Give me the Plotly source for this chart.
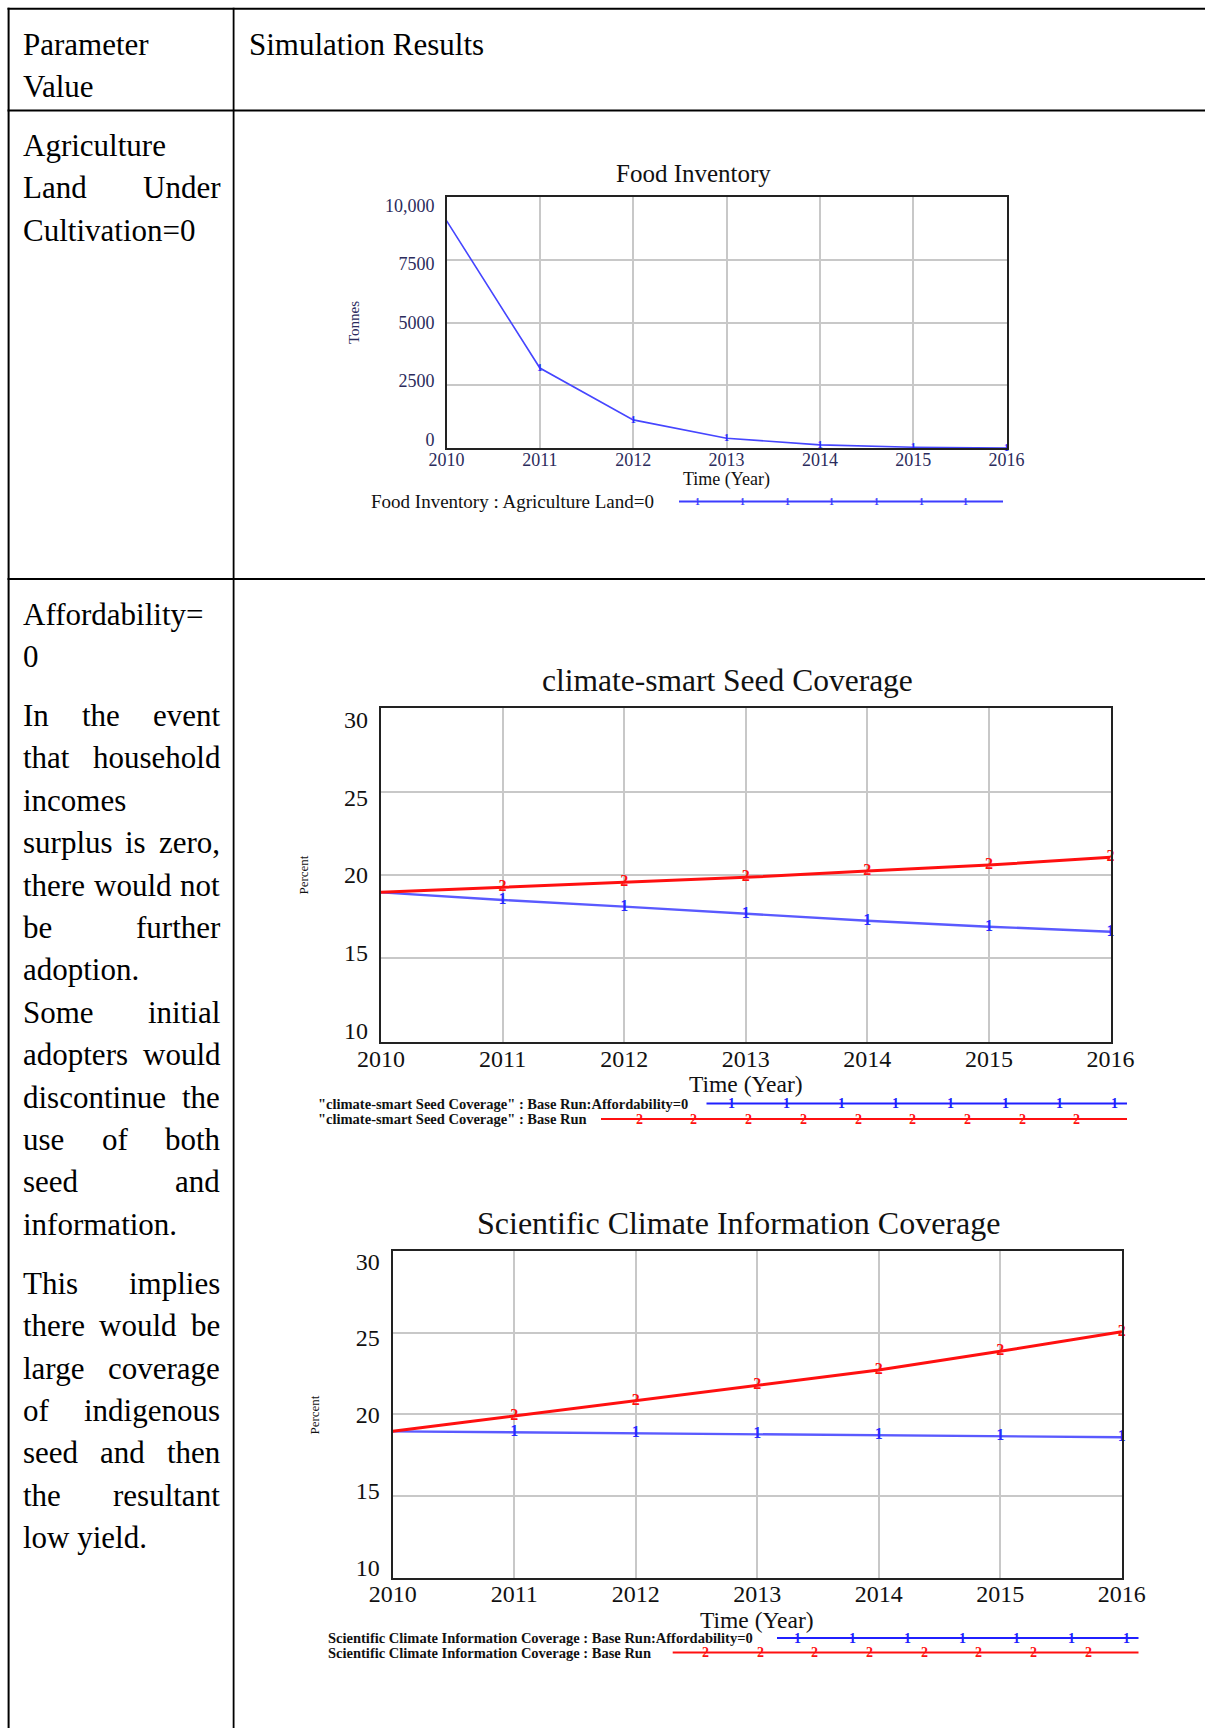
import plotly.graph_objects as go

# ---------------- data ----------------
years = [2010, 2011, 2012, 2013, 2014, 2015, 2016]
food_inventory = [9050, 3190, 1130, 400, 135, 40, 10]
seed_affordability0 = [18.96, 18.5, 18.1, 17.66, 17.26, 16.9, 16.6]
seed_base = [18.96, 19.26, 19.56, 19.86, 20.24, 20.6, 21.06]
info_affordability0 = [18.96, 18.9, 18.84, 18.78, 18.72, 18.66, 18.6]
info_base = [18.96, 19.9, 20.83, 21.77, 22.72, 23.86, 25.06]

food_ticks = [0, 2500, 5000, 7500, 10000]
food_ticktext = ["0", "2500", "5000", "7500", "10,000"]
pct_ticks = [10, 15, 20, 25, 30]
pct_ticktext = ["10", "15", "20", "25", "30"]

header_left = ["Parameter", "Value"]
header_right = "Simulation Results"
param_agri = ["Agriculture", "Land Under", "Cultivation=0"]
param_afford = ["Affordability=", "0"]
para_1 = ["In the event", "that household", "incomes", "surplus is zero,",
          "there would not", "be further", "adoption.", "Some initial",
          "adopters would", "discontinue the", "use of both", "seed and",
          "information."]
para_2 = ["This implies", "there would be", "large coverage", "of indigenous",
          "seed and then", "the resultant", "low yield."]

titles = ["Food Inventory", "climate-smart Seed Coverage",
          "Scientific Climate Information Coverage"]
legend_food = "Food Inventory : Agriculture Land=0"
legend_seed = ['"climate-smart Seed Coverage" : Base Run:Affordability=0',
               '"climate-smart Seed Coverage" : Base Run']
legend_info = ["Scientific Climate Information Coverage : Base Run:Affordability=0",
               "Scientific Climate Information Coverage : Base Run"]

# ---------------- helpers ----------------
W, H = 1205, 1728
FONT = "Liberation Serif"
BLUE = "#4646ff"
RED = "#ff1010"
NAVY = "#2b2b5c"
INK = "#111111"


def px(x):
    return x / W


def py(y):
    return 1 - y / H


TIMES = dict(zip("ABCDEFGHIJKLMNOPQRSTUVWXYZ",
                 [722, 667, 667, 722, 611, 556, 722, 722, 333, 389, 722, 611, 889,
                  722, 722, 556, 722, 667, 556, 611, 722, 722, 944, 722, 722, 611]))
TIMES.update(zip("abcdefghijklmnopqrstuvwxyz",
                 [444, 500, 444, 500, 444, 333, 500, 500, 278, 278, 500, 278, 778,
                  500, 500, 500, 500, 333, 389, 278, 500, 500, 722, 500, 500, 444]))
TIMES.update({" ": 250, ",": 250, ".": 250, "=": 564, "-": 333, ":": 278})


def tw(s, size):
    return sum(TIMES.get(c, 500) for c in s) / 1000 * size


annotations = []
shapes = []


def text(x, y, s, size, color="#000", anchor="left", angle=0, bold=False):
    annotations.append(dict(
        x=px(x), y=py(y), xref="paper", yref="paper", text=("<b>%s</b>" % s if bold else s),
        showarrow=False, xanchor=anchor, yanchor="middle", textangle=angle,
        font=dict(family=FONT, size=size, color=color), borderpad=0))


def paragraph(lines, y0, x0=22, x1=219, size=31, step=42.4):
    for i, line in enumerate(lines):
        y = y0 + i * step
        words = line.split()
        last = i == len(lines) - 1
        if last or len(words) == 1:
            text(x0, y, line, size)
            continue
        widths = [tw(w, size) for w in words]
        gap = (x1 - x0 - sum(widths)) / (len(words) - 1)
        x = x0
        for w, wd in zip(words, widths):
            text(x, y, w, size)
            x += wd + gap


def hline(x0, x1, y, color="#000", width=2):
    shapes.append(dict(type="line", xref="paper", yref="paper", x0=px(x0), x1=px(x1),
                       y0=py(y), y1=py(y), line=dict(color=color, width=width)))


def vline(x, y0, y1, color="#000", width=2):
    shapes.append(dict(type="line", xref="paper", yref="paper", x0=px(x), x1=px(x),
                       y0=py(y0), y1=py(y1), line=dict(color=color, width=width)))


def legend_row(label, lx, y, line_x0, line_x1, color, mark, m0, mstep, mcount, size, msize, bold):
    text(lx, y, label, size, INK, bold=bold)
    hline(line_x0, line_x1, y, color=color, width=2)
    for k in range(mcount):
        text(m0 + k * mstep, y, "<b>%s</b>" % mark, msize, color, anchor="center")


# ---------------- table ----------------
hline(7.5, W, 8.8)
hline(7.5, W, 110.5)
hline(7.5, W, 579)
vline(8.6, 7.8, H)
vline(233.6, 7.8, H, width=1.8)

paragraph(header_left, 44.1)
text(248, 44.1, header_right, 31)
paragraph(param_agri, 145.5)
paragraph(param_afford, 614.1)
paragraph(para_1, 715.5)
paragraph(para_2, 1283.3)

# ---------------- charts ----------------
fig = go.Figure()
hover = dict(hoverinfo="skip", showlegend=False)


def marks(xs, ys, glyph, size, color, xa, ya):
    fig.add_trace(go.Scatter(x=xs, y=ys, mode="text", text=["<b>%s</b>" % glyph] * len(xs),
                             textfont=dict(family=FONT, size=size, color=color),
                             cliponaxis=False, xaxis=xa, yaxis=ya, **hover))


# chart 1
fig.add_trace(go.Scatter(x=years, y=food_inventory, mode="lines",
                         line=dict(color=BLUE, width=1.6), xaxis="x", yaxis="y", **hover))
marks(years[1:], food_inventory[1:], "1", 11, "#2a2aff", "x", "y")
# chart 2
fig.add_trace(go.Scatter(x=years, y=seed_affordability0, mode="lines",
                         line=dict(color="#5a5aff", width=2.4), xaxis="x2", yaxis="y2", **hover))
fig.add_trace(go.Scatter(x=years, y=seed_base, mode="lines",
                         line=dict(color=RED, width=3), xaxis="x2", yaxis="y2", **hover))
marks(years[1:], seed_affordability0[1:], "1", 16, "#2a2aff", "x2", "y2")
marks(years[1:], seed_base[1:], "2", 16, RED, "x2", "y2")
# chart 3
fig.add_trace(go.Scatter(x=years, y=info_affordability0, mode="lines",
                         line=dict(color="#5a5aff", width=2.4), xaxis="x3", yaxis="y3", **hover))
fig.add_trace(go.Scatter(x=years, y=info_base, mode="lines",
                         line=dict(color=RED, width=3), xaxis="x3", yaxis="y3", **hover))
marks(years[1:], info_affordability0[1:], "1", 16, "#2a2aff", "x3", "y3")
marks(years[1:], info_base[1:], "2", 16, RED, "x3", "y3")

# invisible anchors so the label-only overlay axes are always drawn
for xa, ya, yv in (("x", "y4", food_ticks), ("x2", "y5", pct_ticks), ("x3", "y6", pct_ticks)):
    fig.add_trace(go.Scatter(x=years[:1], y=yv[:1], mode="markers", marker=dict(opacity=0),
                             xaxis=xa, yaxis=ya, **hover))


def xax(x0, x1, anchor, size, color, standoff):
    return dict(domain=[px(x0), px(x1)], anchor=anchor, range=[2010, 2016],
                tickvals=years, ticktext=[str(y) for y in years],
                tickfont=dict(family=FONT, size=size, color=color),
                showgrid=True, gridcolor="#c8c8c8", gridwidth=1.5,
                showline=True, mirror=True, linecolor="#222", linewidth=2,
                zeroline=False, ticks="", ticklabelstandoff=standoff,
                automargin=False, fixedrange=True)


def yax(y0, y1, anchor, rng, vals):
    # grid + frame axis (labels drawn by the overlay axis below)
    return dict(domain=[py(y1), py(y0)], anchor=anchor, range=rng, tickvals=vals,
                showticklabels=False,
                showgrid=True, gridcolor="#c8c8c8", gridwidth=1.5,
                showline=True, mirror=True, linecolor="#222", linewidth=2,
                zeroline=False, ticks="", automargin=False, fixedrange=True)


def ylab(y0, y1, anchor, over, rng, vals, labels, size, color, standoff, inset):
    # Vensim-style labels: evenly spread, pulled slightly inside the frame
    lo, hi = rng
    h = y1 - y0
    pad = (hi - lo) * inset / (h - 2 * inset)
    return dict(domain=[py(y1), py(y0)], anchor=anchor, overlaying=over, side="left",
                range=[lo - pad, hi + pad], tickvals=vals, ticktext=labels,
                tickfont=dict(family=FONT, size=size, color=color),
                showgrid=False, showline=False, zeroline=False, ticks="",
                ticklabelstandoff=standoff, automargin=False, fixedrange=True)


# chart annotations
text(694, 174, titles[0], 25, INK, anchor="center")
text(726.5, 479, "Time (Year)", 18, INK, anchor="center")
text(354, 323, "Tonnes", 15, NAVY, anchor="center", angle=-90)
legend_row(legend_food, 370, 501.6, 679, 1003, "#3c3cff", "1", 697.9, 44.65, 7, 19, 10, False)

text(727, 680, titles[1], 31.5, INK, anchor="center")
text(745.8, 1084, "Time (Year)", 23.5, INK, anchor="center")
text(303.6, 875, "Percent", 13, INK, anchor="center", angle=-90)
legend_row(legend_seed[0], 316.5, 1103.6, 706.5, 1127, "#2020ff", "1", 731.7, 54.7, 8, 14.5, 14, True)
legend_row(legend_seed[1], 316.5, 1119, 601, 1127, RED, "2", 639.2, 54.7, 9, 14.5, 14, True)

text(738.5, 1223, titles[2], 32, INK, anchor="center")
text(757, 1619.5, "Time (Year)", 23.5, INK, anchor="center")
text(313.6, 1415, "Percent", 13, INK, anchor="center", angle=-90)
legend_row(legend_info[0], 326.5, 1638, 777, 1138.5, "#2020ff", "1", 797.9, 54.7, 7, 14.5, 14, True)
legend_row(legend_info[1], 326.5, 1652.6, 672.7, 1138.5, RED, "2", 705.3, 54.7, 8, 14.5, 14, True)

C1 = (446.5, 1006.6, 196.7, 448.3)
C2 = (381, 1110.5, 708.3, 1041.7)
C3 = (392.7, 1121.7, 1251, 1577.7)

fig.update_layout(
    width=W, height=H, autosize=False,
    margin=dict(l=0, r=0, t=0, b=0, pad=0, autoexpand=False),
    paper_bgcolor="white", plot_bgcolor="white",
    font=dict(family=FONT, color="#000"),
    showlegend=False,
    xaxis=xax(C1[0], C1[1], "y", 18, NAVY, -6),
    yaxis=yax(C1[2], C1[3], "x", [0, 10000], food_ticks),
    yaxis4=ylab(C1[2], C1[3], "x", "y", [0, 10000], food_ticks, food_ticktext, 18, NAVY, 11, 8.8),
    xaxis2=xax(C2[0], C2[1], "y2", 24, INK, -6),
    yaxis2=yax(C2[2], C2[3], "x2", [10, 30], pct_ticks),
    yaxis5=ylab(C2[2], C2[3], "x2", "y2", [10, 30], pct_ticks, pct_ticktext, 24, INK, 12, 11),
    xaxis3=xax(C3[0], C3[1], "y3", 24, INK, -7),
    yaxis3=yax(C3[2], C3[3], "x3", [10, 30], pct_ticks),
    yaxis6=ylab(C3[2], C3[3], "x3", "y3", [10, 30], pct_ticks, pct_ticktext, 24, INK, 12, 10.5),
    annotations=annotations,
    shapes=shapes,
)

fig.write_html("out.html", config={"displayModeBar": False},
               post_script="document.body.style.margin='0';document.body.style.overflow='hidden';")
